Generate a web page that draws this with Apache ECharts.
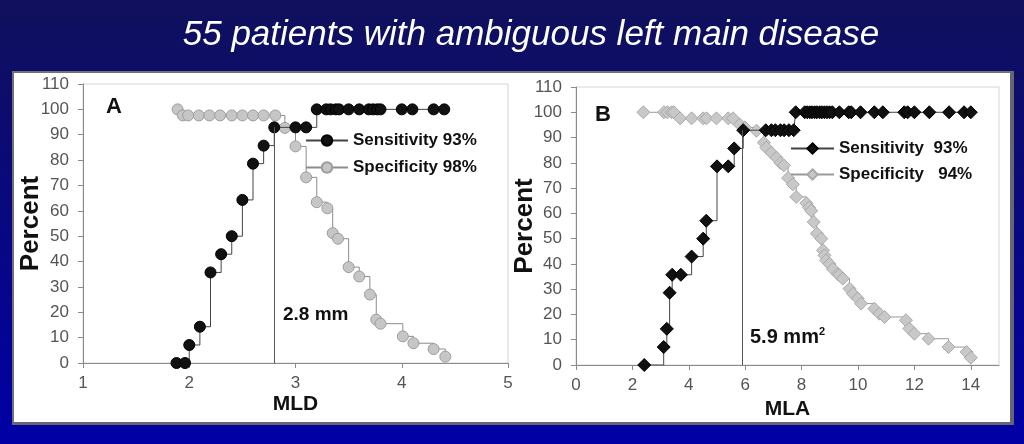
<!DOCTYPE html>
<html><head><meta charset="utf-8">
<script src="https://cdn.jsdelivr.net/npm/echarts@6/dist/echarts.min.js"></script>
<style>
html,body{margin:0;padding:0;width:1024px;height:444px;overflow:hidden;background:linear-gradient(#10105c,#0000a6);}
#frame{position:absolute;left:12px;top:71px;width:996px;height:349px;background:#fff;border-left:2px solid #707078;border-top:2px solid #707078;border-right:4px solid #66666f;border-bottom:3px solid #66666f;}
#chart{position:absolute;left:0;top:0;width:1024px;height:444px;}
</style></head>
<body>
<div id="frame"></div>
<div id="chart"></div>
<script>
// ---------- Data ----------
const titleText = '55 patients with ambiguous left main disease';

// Panel A: MLD (mm)
const mldSensX = [1.88,1.96,2.0,2.1,2.2,2.3,2.4,2.5,2.6,2.7,2.8,3.0,3.1,3.2,3.29,3.33,3.38,3.41,3.5,3.6,3.69,3.73,3.77,3.8,4.0,4.1,4.3,4.4];
const mldSensY = [0,0,7.1,14.3,35.7,42.9,50,64.3,78.6,85.7,92.9,92.9,92.9,100,100,100,100,100,100,100,100,100,100,100,100,100,100,100];
const mldSpecX = [1.89,1.94,1.99,2.09,2.19,2.29,2.4,2.5,2.6,2.7,2.81,2.9,3.0,3.1,3.2,3.3,3.35,3.4,3.5,3.6,3.7,3.76,3.8,4.01,4.11,4.3,4.41];
const mldSpecY = [100,97.6,97.6,97.6,97.6,97.6,97.6,97.6,97.6,97.6,97.6,92.7,85.4,73.2,63.4,61.0,51.2,49,37.8,34.1,27,17.1,15.5,10.5,7.8,5.5,2.5];
const mldCutoff = 2.8;
const mldTicks = [1,2,3,4,5];

// Panel B: MLA (mm2)
const mlaSensX = [2.42,3.11,3.22,3.32,3.41,3.72,4.10,4.51,4.62,5.0,5.40,5.61,5.93,6.73,6.93,7.07,7.25,7.38,7.55,7.72,7.79,8.11,8.2,8.29,8.37,8.46,8.54,8.64,8.72,8.81,8.9,8.99,9.09,9.34,9.67,9.76,10.09,10.58,10.88,11.64,11.76,12.0,12.53,13.23,13.76,14.0];
const mlaSensY = [0,7.1,14.3,28.6,35.7,35.7,42.9,50,57.1,78.6,78.6,85.7,92.9,92.9,92.9,92.9,92.9,92.9,92.9,92.9,100,100,100,100,100,100,100,100,100,100,100,100,100,100,100,100,100,100,100,100,100,100,100,100,100,100];
const mlaSpecX = [2.39,3.12,3.24,3.39,3.47,3.69,4.10,4.51,4.63,4.98,5.40,5.57,5.81,5.99,6.40,6.66,6.75,6.93,7.11,7.25,7.37,7.52,7.69,7.81,8.17,8.26,8.34,8.43,8.54,8.70,8.76,8.81,8.87,8.99,9.11,9.29,9.34,9.46,9.70,9.82,9.99,10.11,10.58,10.76,10.94,11.70,11.82,12.0,12.50,13.21,13.85,14.0];
const mlaSpecY = [100,100,100,100,100,97.6,97.6,97.6,97.6,97.6,97.6,97.6,95.1,94,92.7,88,86,84,82,80,79,74,71.5,66.5,64,62.3,61,56.6,52,50,45.4,43.4,41.4,40,38,36,35.5,34.2,30.2,28.2,26.3,24.3,22.3,20.3,19,17.7,14.4,12.4,10.4,7.1,5.1,2.9];
const mlaCutoff = 5.9;
const mlaTicks = [0,2,4,6,8,10,12,14];

const yTicks = [0,10,20,30,40,50,60,70,80,90,100,110];

const seriesNames = {
  aSens: 'Sensitivity 93%', aSpec: 'Specificity 98%',
  bSens: 'Sensitivity  93%', bSpec: 'Specificity   94%'
};

// ---------- Chart ----------
const FONT = "'Liberation Sans', Arial, sans-serif";
const zip = (xs, ys) => xs.map((x, i) => [x, ys[i]]);

function xAxis(grid, min, max, ticks, name, gap) {
  return {
    gridIndex: grid, type: 'value', min: min, max: max,
    axisLine: {show: true, onZero: false, lineStyle: {color: '#8a8a8a', width: 1}},
    axisTick: {show: true, length: 5, lineStyle: {color: '#8a8a8a'}, customValues: ticks},
    axisLabel: {color: '#555', fontSize: 17, fontFamily: FONT, margin: 12, customValues: ticks},
    splitLine: {show: false},
    name: name, nameLocation: 'middle', nameGap: gap, nameMoveOverlap: false,
    nameTextStyle: {fontWeight: 'bold', fontSize: 21, color: '#111', fontFamily: FONT}
  };
}
function yAxis(grid, gap) {
  return {
    gridIndex: grid, type: 'value', min: 0, max: 110, interval: 10,
    axisLine: {show: true, lineStyle: {color: '#8a8a8a', width: 1}},
    axisTick: {show: true, length: 5, lineStyle: {color: '#8a8a8a'}},
    axisLabel: {color: '#555', fontSize: 17, fontFamily: FONT, margin: 14,
      customValues: yTicks},
    splitLine: {show: false},
    name: 'Percent', nameLocation: 'middle', nameGap: gap, nameMoveOverlap: false,
    nameTextStyle: {fontWeight: 'bold', fontSize: 26, color: '#111', fontFamily: FONT}
  };
}
function lineSeries(name, grid, data, symbol, size, fill, border, lineColor, z) {
  return {
    name: name, type: 'line', xAxisIndex: grid, yAxisIndex: grid,
    data: data, step: 'end', symbol: symbol, symbolSize: size, showAllSymbol: true,
    itemStyle: {color: fill, borderColor: border, borderWidth: 1},
    lineStyle: {color: lineColor, width: 1},
    emphasis: {disabled: true}, animation: false, z: z
  };
}
function cutoffLine(x, top) {
  return {
    silent: true, symbol: 'none', animation: false,
    label: {show: false},
    lineStyle: {color: '#555', width: 1, type: 'solid'},
    data: [[{coord: [x, 0]}, {coord: [x, top]}]]
  };
}

const chart = echarts.init(document.getElementById('chart'), null, {renderer: 'canvas'});

const sA = lineSeries(seriesNames.aSens, 0, zip(mldSensX, mldSensY), 'circle', 11, '#111', '#000', '#444', 4);
sA.markLine = cutoffLine(mldCutoff, 93);
const sB = lineSeries(seriesNames.bSens, 1, zip(mlaSensX, mlaSensY), 'diamond', 13, '#111', '#000', '#444', 4);
sB.markLine = cutoffLine(mlaCutoff, 93);

const legendText = {fontWeight: 'bold', fontSize: 17, color: '#111', fontFamily: FONT};

chart.setOption({
  backgroundColor: 'transparent',
  animation: false,
  textStyle: {fontFamily: FONT},
  grid: [
    {left: 83, top: 84, width: 425, height: 279, show: true, borderColor: '#d4d4d4', borderWidth: 1, backgroundColor: 'transparent'},
    {left: 576, top: 87, width: 423, height: 278, show: true, borderColor: '#d4d4d4', borderWidth: 1, backgroundColor: 'transparent'}
  ],
  xAxis: [xAxis(0, 1, 5, mldTicks, 'MLD', 31), xAxis(1, 0, 15, mlaTicks, 'MLA', 34)],
  yAxis: [yAxis(0, 39), yAxis(1, 38)],
  legend: [
    {data: [seriesNames.aSens, seriesNames.aSpec], orient: 'vertical', left: 305, top: 132, padding: 0,
     itemWidth: 42, itemHeight: 13, itemGap: 10, textStyle: legendText, selectedMode: false},
    {data: [seriesNames.bSens, seriesNames.bSpec], orient: 'vertical', left: 790, top: 140, padding: 0,
     itemWidth: 43, itemHeight: 13, itemGap: 9, textStyle: legendText, selectedMode: false}
  ],
  series: [
    lineSeries(seriesNames.aSpec, 0, zip(mldSpecX, mldSpecY), 'circle', 11, '#c6c6c6', '#9c9c9c', '#8c8c8c', 3),
    sA,
    lineSeries(seriesNames.bSpec, 1, zip(mlaSpecX, mlaSpecY), 'diamond', 13, '#c8c8c8', '#a8a8a8', '#999', 3),
    sB
  ],
  graphic: [
    {type: 'text', x: 531, y: 35, z: 100, style: {text: titleText, fill: '#fff', font: 'italic 35px ' + FONT, align: 'center', verticalAlign: 'middle'}},
    {type: 'text', x: 106, y: 107, z: 100, style: {text: 'A', fill: '#111', font: 'bold 22px ' + FONT, align: 'left', verticalAlign: 'middle'}},
    {type: 'text', x: 595, y: 115, z: 100, style: {text: 'B', fill: '#111', font: 'bold 22px ' + FONT, align: 'left', verticalAlign: 'middle'}},
    {type: 'text', x: 283, y: 315, z: 100, style: {text: '2.8 mm', fill: '#111', font: 'bold 19px ' + FONT, align: 'left', verticalAlign: 'middle'}},
    {type: 'text', x: 750, y: 337, z: 100, style: {
      text: '{a|5.9 mm}{s|2}', align: 'left', verticalAlign: 'middle',
      rich: {
        a: {fontSize: 20, fontWeight: 'bold', fill: '#111', color: '#111', fontFamily: FONT},
        s: {fontSize: 11, fontWeight: 'bold', fill: '#111', color: '#111', fontFamily: FONT, verticalAlign: 'top', padding: [0, 0, 10, 0]}
      }}}
  ]
});
</script>
</body></html>
